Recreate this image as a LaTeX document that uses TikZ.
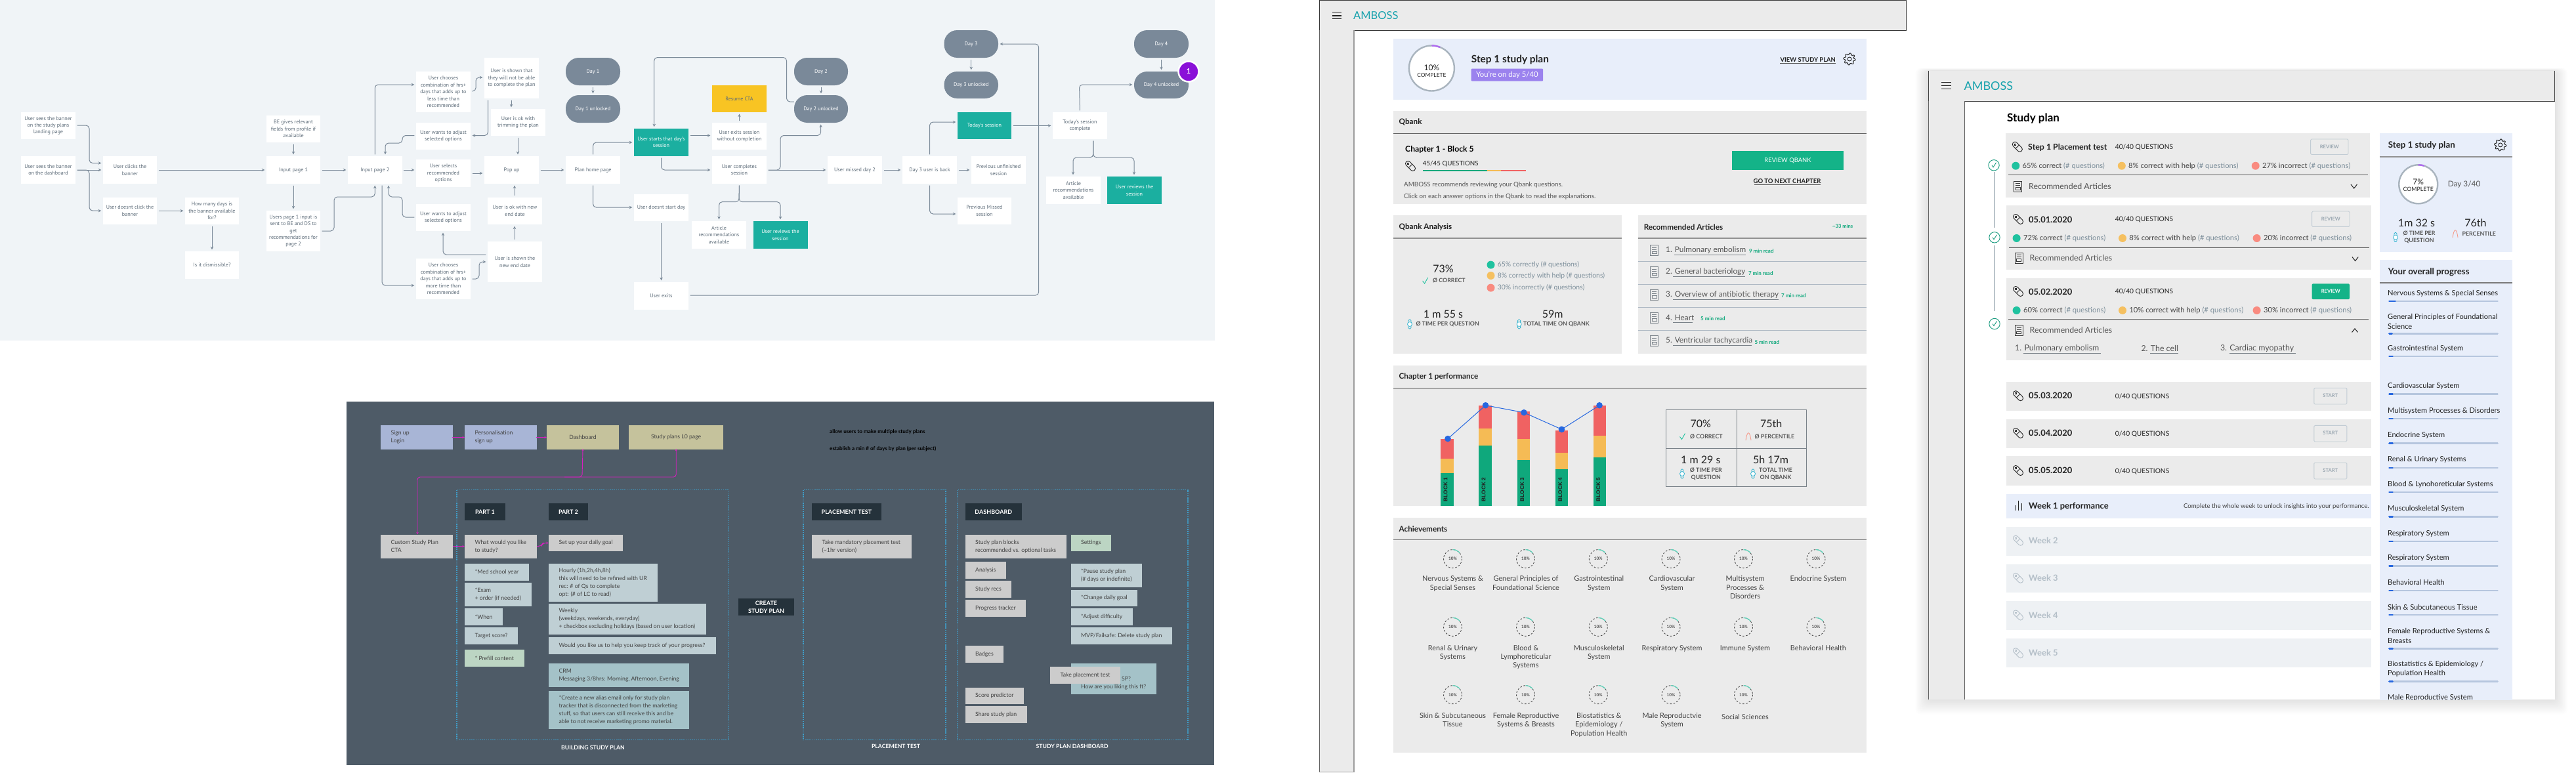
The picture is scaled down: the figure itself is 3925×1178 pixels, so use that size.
\documentclass[tikz,border=0pt]{standalone}
\usepackage{fontspec}
\setmainfont{Lato}
\newfontfamily\flowfont{PT Sans}
\newfontfamily\arialf{Liberation Sans}
\usetikzlibrary{arrows.meta,calc}
\definecolor{flowbg}{HTML}{F0F4F7}
\definecolor{flowln}{HTML}{7B8A99}
\definecolor{flowtx}{HTML}{5C6B78}
\definecolor{teal1}{HTML}{1BAFA0}
\definecolor{yel1}{HTML}{F8C423}
\definecolor{dayc}{HTML}{7A8999}
\definecolor{purp}{HTML}{8A10D8}
\definecolor{dark1}{HTML}{4E5B67}
\definecolor{navy}{HTML}{25323B}
\definecolor{mag}{HTML}{D81FC0}
\definecolor{frameb}{HTML}{3E9FCB}
\definecolor{lav}{HTML}{A8B5D6}
\definecolor{khaki}{HTML}{C5C29C}
\definecolor{gr1}{HTML}{CCCCCC}
\definecolor{bl1}{HTML}{BFCFD4}
\definecolor{bl2}{HTML}{A4C2C8}
\definecolor{gn1}{HTML}{BCD5C3}
\definecolor{pan}{HTML}{EBEBEB}
\definecolor{ice}{HTML}{E8EEFA}
\definecolor{pale}{HTML}{EEF1F4}
\definecolor{logo}{HTML}{17A2AD}
\definecolor{ring}{HTML}{A9B4BE}
\definecolor{pur2}{HTML}{B06CF0}
\definecolor{pur3}{HTML}{9B82EE}
\definecolor{btn}{HTML}{14B388}
\definecolor{dotg}{HTML}{1FC29F}
\definecolor{doty}{HTML}{F5C060}
\definecolor{dotr}{HTML}{F98B80}
\definecolor{slate}{HTML}{7D8F9B}
\definecolor{hair}{HTML}{AEB9C4}
\definecolor{barr}{HTML}{F06262}
\definecolor{bary}{HTML}{F5BB55}
\definecolor{barg}{HTML}{0FA87C}
\definecolor{blu}{HTML}{2667E0}
\definecolor{watch}{HTML}{35B5D0}
\definecolor{ink}{HTML}{222222}
\definecolor{greytx}{HTML}{555555}
\definecolor{faint}{HTML}{B4BFC8}
\definecolor{btnb}{HTML}{C2CCD4}
\definecolor{btnt}{HTML}{9AA7B1}
\definecolor{track}{HTML}{B6C6DE}
\definecolor{salm}{HTML}{F59A8A}
\newcounter{lbn}
\tikzset{
  x=1pt,y=-1pt,
  fs/.style 2 args={font=\fontsize{#1}{#2}\selectfont},
  bfs/.style 2 args={font=\bfseries\fontsize{#1}{#2}\selectfont},
  tx/.style={inner sep=0,anchor=west,text=ink,fs={10}{12.5}},
  flowbase/.style={inner sep=0,align=center,text=flowtx,font=\flowfont\fontsize{8.1}{10.4}\selectfont},
  wbox/.style={flowbase,fill=white},
  tbox/.style={flowbase,fill=teal1,text=white},
  ybox/.style={flowbase,fill=yel1,text=flowtx},
  dbox/.style={flowbase,fill=dayc,text=white,rounded corners=20},
  flow/.style={draw=flowln,line width=1,rounded corners=5,shorten >=2.5,shorten <=2.5,-{Stealth[length=4.5,width=4.5]}},
  mg/.style={draw=mag,line width=.9,rounded corners=4,-{Stealth[length=3.5,width=3.5]}},
  pb/.style={inner sep=0},
  dotf/.style={draw=frameb,line width=1.3,dash pattern=on 1.6 off 1.6},
  dk/.style={inner sep=0,fill=navy,text=white,align=center,font=\bfseries\fontsize{9}{12}\selectfont},
  sec/.style={bfs={11.7}{14}},
  captxt/.style={inner sep=0,text=white,font=\bfseries\fontsize{8.7}{11}\selectfont},
  smb/.style={bfs={8.8}{11},text=greytx},
}
\newcommand\fb[7][wbox]{\node[#1,minimum width={#5-#3},minimum height={#6-#4}] (#2) at ({(#3+#5)/2},{(#4+#6)/2}) {#7};}
\newcommand\pbx[7]{\node[pb,fill=#1,minimum width={#5-#3},minimum height={#6-#4}] (#2) at ({(#3+#5)/2},{(#4+#6)/2}) {};\node[inner sep=0,anchor=west,align=left,text=ink!85,font=\fontsize{8.7}{12}\selectfont] (#2-t) at ([xshift=15.6]#2.west) {#7};}
\newcommand\lb[4][]{\stepcounter{lbn}\node[tx,#1] (lb\arabic{lbn}) at (#2,#3) {#4};}
\newcommand\pillic[3]{\begin{scope}[shift={(#1,#2)},rotate=45]\draw[#3,line width=.9,rounded corners=3.6] (-3.8,-9) rectangle (3.8,9);\draw[#3,line width=.9] (-3.8,0) -- (3.8,0);\draw[#3,line width=.7] (0,-5) circle[radius=1.2];\end{scope}}
\newcommand\watchic[2]{\begin{scope}[shift={(#1,#2)}]\draw[watch,line width=.8,rounded corners=1.5] (-2,-7) rectangle (2,7);\fill[white] (0,0) circle[radius=3.5];\draw[watch,line width=.8] (0,0) circle[radius=3.5];\end{scope}}
\newcommand\chk[2]{\draw[dotg,line width=.9] (#1-4,#2) -- (#1-1,#2+4) -- (#1+4,#2-5);}
\newcommand\pctl[2]{\draw[salm,line width=.9] (#1-4,#2+6) .. controls (#1-2,#2-9) and (#1+2,#2-9) .. (#1+4,#2+6);}
\newcommand\artic[3]{\begin{scope}[shift={(#1,#2)}]\draw[#3,line width=1] (-6,-8) rectangle (6,8);\foreach \q in {-4.5,-1.5}{\draw[#3,line width=.8] (-3.5,\q) -- (3.5,\q);}\draw[#3,line width=.8] (-3.5,1.5) rectangle (3.5,5);\end{scope}}
\newcommand\gearic[2]{\begin{scope}[shift={(#1,#2)}]\draw[ink,line width=.9,rounded corners=.8] plot[samples at={0,7.5,...,352.5},variable=\a] ({((mod(\a,45)<22)?9:6.8)*cos(\a)},{((mod(\a,45)<22)?9:6.8)*sin(\a)}) -- cycle;\draw[ink,line width=.9] (0,0) circle[radius=3];\end{scope}}
\def\sfs{10.4}
\newcommand\sdot[5]{\fill[#3] (#1,#2) circle[radius=6];\lb[fs={\sfs}{12}]{#1+10.2}{#2}{\textcolor{ink!85}{#4} \textcolor{slate}{#5}}}
\newcommand\ach[3]{\lb[anchor=north,align=center,fs={10.9}{13.2},text=ink!85]{#1}{#2-5.3}{#3}}
\newcommand\ring[2]{\draw[ink!80,line width=.9,dash pattern=on 2.6 off 2.6] (#1,#2) circle[radius=14];\draw[dotg!70,line width=1.3] (#1,#2-14) arc[start angle=-90,end angle=-40,radius=14];\lb[anchor=center,bfs={6.4}{8},text=ink!80]{#1}{#2}{10\%}}
\newcommand\rowbtn[6]{\draw[#5,line width=.9,fill=#6,rounded corners=1.5] (#1,#2) rectangle (#3,#4);}
\newcommand\art[6]{\artic{2520.7}{#1}{hair!70!black}\lb[fs={11.8}{14},text=greytx]{2538}{#1}{#2}\lb[bfs={8}{10},text=barg]{#5}{#1+1.5}{#3}\draw[hair!70!black,line width=.7] (#4,#1+7) -- (#6,#1+7);}
\newcommand\prog[4]{\lb[fs={11.1}{13.6},text=ink]{3638}{#1}{#2}\draw[track,line width=2.6,line cap=round] (3640.5,#3) -- (3805.5,#3);\draw[blu,line width=2.6,line cap=round] (3640.5,#3) -- (3640.5+#4,#3);}
\begin{document}
\begin{tikzpicture}
\useasboundingbox (0,0) rectangle (3925,1178);
\fill[white] (0,0) rectangle (3925,1178);
%% ------- flowchart -------
\fill[flowbg] (0,0) rectangle (1851,519);
\fb{a1}{32}{171}{115}{212}{User sees the banner\\on the study plans\\landing page}
\fb{a2}{32}{238}{115}{280}{User sees the banner\\on the dashboard}
\fb{b1}{157}{238}{239}{280}{User clicks the\\banner}
\fb{b2}{157}{300.5}{239}{342}{User doesnt click the\\banner}
\fb{c}{282}{300.5}{364}{342}{How many days is\\the banner available\\for?}
\fb{d}{282}{383}{364}{425}{Is it dismissible?}
\fb{e}{406}{176}{488}{217}{BE gives relevant\\fields from profile if\\available}
\fb{f}{406}{238}{488}{280}{Input page 1}
\fb{g}{406}{321}{488}{383}{Users page 1 input is\\sent to BE and DS to\\get\\recommendations for\\page 2}
\fb{h}{530}{238}{612.5}{280}{Input page 2}
\fb{i}{634}{109}{717}{171}{User chooses\\combination of hrs+\\days that adds up to\\less time than\\recommended}
\fb{j}{738}{88}{821}{150}{User is shown that\\they will not be able\\to complete the plan}
\fb{k}{748}{166}{831}{207}{User is ok with\\trimming the plan}
\fb{l}{634}{187}{717}{228}{User wants to adjust\\selected options}
\fb{m}{634}{243}{717}{285}{User selects\\recommended\\options}
\fb{n}{738}{238}{821}{280}{Pop up}
\fb{o}{743}{300.5}{826}{342}{User is ok with new\\end date}
\fb{p}{634}{311}{717}{352}{User wants to adjust\\selected options}
\fb{q}{743}{368}{826}{430}{User is shown the\\new end date}
\fb{r}{634}{394}{717}{456}{User chooses\\combination of hrs+\\days that adds up to\\more time than\\recommended}
\fb[dbox]{day1}{862}{88}{945}{130}{Day 1}
\fb[dbox]{day1u}{862}{145}{945}{187}{Day 1 unlocked}
\fb{s}{862}{238}{945}{280}{Plan home page}
\fb[tbox]{t}{966}{196}{1049}{238}{User starts that day's\\session}
\fb{u}{1085}{187}{1168}{228}{User exits session\\without completion}
\fb[ybox]{v}{1085}{130}{1168}{171}{Resume CTA}
\fb{w}{1085}{238}{1168}{280}{User completes\\session}
\fb[dbox]{day2}{1210}{88}{1292}{130}{Day 2}
\fb[dbox]{day2u}{1210}{145}{1292}{187}{Day 2 unlocked}
\fb{x}{966}{295.5}{1049}{337}{User doesnt start day}
\fb{y}{1054}{337}{1137}{379}{Article\\recommendations\\available}
\fb[tbox]{z}{1147.5}{337}{1230.5}{379}{User reviews the\\session}
\fb{aa}{966}{430}{1049}{472}{User exits}
\fb{ab}{1261}{238}{1344}{280}{User missed day 2}
\fb{ac}{1375}{238}{1458}{280}{Day 3 user is back}
\fb{ad}{1480}{238}{1563}{280}{Previous unfinished\\session}
\fb{ae}{1459}{300.5}{1541}{342}{Previous Missed\\session}
\fb[tbox]{af}{1459}{171}{1541}{212}{Today's session}
\fb{ag}{1604}{171}{1687}{212}{Today's session\\complete}
\fb{ah}{1594}{269}{1677}{311}{Article\\recommendations\\available}
\fb[tbox]{ai}{1687}{269}{1770}{311}{User reviews the\\session}
\fb[dbox]{day3}{1438.5}{46}{1521}{88}{Day 3}
\fb[dbox]{day3u}{1438.5}{109}{1521}{150}{Day 3 unlocked}
\fb[dbox]{day4}{1728}{46}{1811}{88}{Day 4}
\fb[dbox]{day4u}{1728}{109}{1811}{150}{Day 4 unlocked}
\node[circle,fill=purp,draw=white,line width=2.5,minimum size=31,inner sep=0,text=white,font=\bfseries\fontsize{11}{12}\selectfont] (badge) at (1811,109) {1};
% connectors
\draw[flow] (a1.east |- 0,191) -- (136,191) -- (136,248.5) -- (b1.west |- 0,248.5);
\draw[flow] (a2.east) -- (b1.west);
\draw[flow] (a2.east) -- (136,259) -- (136,321) -- (b2.west);
\draw[flow] (b1.east) -- (f.west);
\draw[flow] (b2.east) -- (c.west);
\draw[flow] (c.south) -- (d.north);
\draw[flow] (e.south) -- (f.north);
\draw[flow] (f.south) -- (g.north);
\draw[flow] (f.east) -- (h.west);
\draw[flow] (g.east |- 0,352) -- (509,352) -- (509,300) -- (571.3,300) -- (h.south);
\draw[flow] (h.north) -- (571.3,129) -- (i.west |- 0,129);
\draw[flow] (582,0 |- h.south) -- (582,435) -- (r.west |- 0,435);
\draw[flow] (h.east) -- (m.west |- h.east);
\draw[flow] (m.east) -- (n.west |- m.east);
\draw[flow] (n.east) -- (s.west);
\draw[flow] (i.east |- 0,139) -- (725,139) -- (725,118) -- (j.west |- 0,118);
\draw[flow] (779,0 |- j.south) -- (779,0 |- k.north);
\draw[flow] (743.5,0 |- j.south) -- (743.5,206.5) -- (l.east |- 0,206.5);
\draw[flow] (789,0 |- k.south) -- (789,0 |- n.north);
\draw[flow] (l.west |- 0,206.5) -- (613,206.5) -- (613,218) -- (587,218) -- (587,0 |- h.north);
\draw[flow] (p.west |- 0,331) -- (613,331) -- (613,300) -- (592,300) -- (592,0 |- h.south);
\draw[flow] (r.east |- 0,425) -- (730,425) -- (730,399) -- (q.west |- 0,399);
\draw[flow] (q.west |- 0,388) -- (675,388) -- (p.south -| 675,0);
\draw[flow] (784,0 |- q.north) -- (784,0 |- o.south);
\draw[flow] (784,0 |- o.north) -- (784,0 |- n.south);
\draw[flow] (day1.south) -- (day1u.north);
\draw[flow] (903.6,0 |- s.north) -- (903.6,217) -- (t.west |- 0,217);
\draw[flow] (903.6,0 |- s.south) -- (903.6,316) -- (x.west |- 0,316);
\draw[flow] (t.east |- 0,206.5) -- (u.west |- 0,206.5);
\draw[flow] (u.north) -- (v.south);
\draw[flow] (1007.6,0 |- t.south) -- (1007.6,259) -- (w.west);
\draw[flow] (w.east) -- (ab.west);
\draw[flow] (w.east) -- (1189,259) -- (1189,206.5) -- (1250.6,206.5) -- (1250.6,0 |- day2u.south);
\draw[flow,shorten <=0] (day2u.west |- 0,155) -- (1198.5,155) -- (1198.5,87.5) -- (996.7,87.5) -- (996.7,0 |- t.north);
\draw[flow] (day2.south) -- (day2u.north);
\draw[flow] (w.south) -- (1126,307.6) -- (1095.5,307.6) -- (1095.5,0 |- y.north);
\draw[flow] (w.south) -- (1126,307.6) -- (1189,307.6) -- (1189,0 |- z.north);
\draw[flow] (x.south -| 1007.6,0) -- (aa.north -| 1007.6,0);
\draw[flow] (aa.east |- 0,450) -- (1582.7,450) -- (1582.7,67) -- (day3.east);
\draw[flow] (ab.east) -- (ac.west);
\draw[flow] (ac.east) -- (ad.west);
\draw[flow] (ac.north) -- (1416.5,186) -- (af.west |- 0,186);
\draw[flow] (ac.south) -- (1416.5,326) -- (ae.west |- 0,326);
\draw[flow] (af.east) -- (ag.west);
\draw[flow] (ag.north) -- (1644.5,129) -- (day4u.west |- 0,129);
\draw[flow] (1665.8,0 |- ag.south) -- (1665.8,240) -- (1635,240) -- (1635,0 |- ah.north);
\draw[flow] (1665.8,0 |- ag.south) -- (1665.8,240) -- (1728,240) -- (1728,0 |- ai.north);
\draw[flow] (day3.south) -- (day3u.north);
\draw[flow] (day4.south) -- (day4u.north);
%% ------- dark board -------
\fill[dark1] (528,612) rectangle (1850,1166);
\pbx{lav}{su}{580}{648}{690}{685}{Sign up\\Login}
\pbx{lav}{pe}{708}{648}{818}{685}{Personalisation\\sign up}
\node[pb,fill=khaki,minimum width=110,minimum height=37,font=\fontsize{8.7}{12}\selectfont,text=ink!85] (da) at (888,666.5) {Dashboard};
\node[pb,fill=khaki,minimum width=144.5,minimum height=37,font=\fontsize{8.7}{12}\selectfont,text=ink!85] (sp) at (1030.2,666.5) {Study plans L0 page};
\pbx{gr1}{cta}{580}{814.5}{690}{850.6}{Custom Study Plan\\CTA}
\draw[dotf] (696,746.7) rectangle (1110.6,1127.8);
\draw[dotf] (1224,746.7) rectangle (1441,1127.8);
\draw[dotf] (1458.5,746.7) rectangle (1810,1127.8);
\fb[dk]{pt1}{708}{767}{770}{793}{PART 1}
\fb[dk]{pt2}{836}{767}{896}{793}{PART 2}
\fb[dk]{pt3}{1237}{767}{1343}{793}{PLACEMENT TEST}
\fb[dk]{pt4}{1470.6}{767}{1557}{793}{DASHBOARD}
\fb[dk]{cs}{1125}{912}{1210}{938}{CREATE\\STUDY PLAN}
\pbx{gr1}{wh}{708}{814.5}{818}{850.6}{What would you like\\to study?}
\pbx{gr1}{set}{836}{814.5}{949}{840.3}{Set up your daily goal}
\pbx{bl1}{med}{708}{859}{806}{885}{*Med school year}
\pbx{bl1}{ex}{708}{888}{810}{924}{*Exam\\+ order (if needed)}
\pbx{bl1}{wn}{708}{927}{766}{953}{*When}
\pbx{bl1}{ts}{708}{956}{789}{982}{Target score?}
\pbx{gn1}{pf}{708}{990}{798.6}{1016}{* Prefill content}
\pbx{bl1}{hr}{836}{859}{1002}{916.6}{Hourly (1h,2h,4h,8h)\\this will need to be refined with UR\\rec: \# of Qs to complete\\opt: (\# of LC to read)}
\pbx{bl1}{wk}{836}{919.6}{1076}{966.7}{Weekly\\(weekdays, weekends, everyday)\\+ checkbox excluding holidays (based on user location)}
\pbx{bl1}{tr}{836}{970.8}{1090.5}{996.6}{Would you like us to help you keep track of your progress?}
\pbx{bl2}{crm}{836}{1010.6}{1050}{1047}{CRM\\Messaging 3/8hrs: Morning, Afternoon, Evening}
\pbx{bl2}{al}{836}{1053}{1050}{1110.5}{*Create a new alias email only for study plan\\tracker that is disconnected from the marketing\\stuff, so that users can still receive this and be\\able to not receive marketing promo material.}
\pbx{gr1}{mt}{1237}{814.5}{1388.6}{850.6}{Take mandatory placement test\\(\textasciitilde1hr version)}
\pbx{gr1}{bk}{1470.6}{814.5}{1624.5}{850.6}{Study plan blocks\\recommended vs. optional tasks}
\pbx{gn1}{st}{1631.5}{814.5}{1693}{840.3}{Settings}
\pbx{gr1}{an}{1470.6}{856}{1532.6}{882}{Analysis}
\pbx{gr1}{rc}{1470.6}{885}{1541}{911}{Study recs}
\pbx{gr1}{tk}{1470.6}{914.4}{1563.4}{940}{Progress tracker}
\pbx{gr1}{bd}{1470.6}{984.4}{1529}{1010}{Badges}
\pbx{gr1}{sc}{1470.6}{1047.5}{1560}{1073.3}{Score predictor}
\pbx{gr1}{sh}{1470.6}{1076}{1565}{1102}{Share study plan}
\pbx{bl1}{pa}{1631.5}{859}{1740}{895}{*Pause study plan\\(\# days or indefinite)}
\pbx{bl1}{cg}{1631.5}{898.6}{1733.4}{924.4}{*Change daily goal}
\pbx{bl1}{ad2}{1631.5}{927}{1726}{953}{*Adjust difficulty}
\pbx{bl1}{mv}{1631.5}{956}{1785.9}{982}{MVP/Failsafe: Delete study plan}
\pbx{bl2}{ft}{1631.5}{1010.6}{1762}{1057.8}{\strut\\\hspace*{62pt}SP?\\How are you liking this ft?}
\pbx{gr1}{tp}{1600}{1016}{1707}{1041.6}{Take placement test}
\draw[mg,shorten <=-1] (su.east) -- (pe.west);
\draw[mg,shorten <=-1] (pe.east) -- (da.west);
\draw[mg,{Stealth[length=3,width=3]}-{Stealth[length=3.5,width=3.5]},shorten <=-1] (da.south) -- (887,727) -- (860,727) -- (636,727) -- (636,0 |- cta.north);
\draw[mg,{Stealth[length=3,width=3]}-,shorten <=-1] (sp.south) -- (1030.2,727) -- (860,727);
\draw[mg] (cta.east) -- (wh.west);
\draw[mg] (wh.east) -- (825,832) -- (827,827.6) -- (set.west);
\node[captxt] (c1) at (903.5,1139.6) {BUILDING STUDY PLAN};
\node[captxt] (c2) at (1365,1137.8) {PLACEMENT TEST};
\node[captxt] (c3) at (1633.6,1137.8) {STUDY PLAN DASHBOARD};
\lb[bfs={8.1}{11},text=black]{1264}{658}{allow users to make multiple study plans}
\lb[bfs={8.1}{11},text=black]{1264}{684.4}{establish a min \# of days by plan (per subject)}
%% ------- screen 1 -------
\fill[pan] (2010,0) rectangle (2904,46.4);
\draw[ink!90,line width=1] (2010,0.5) -- (2904,0.5) -- (2904,46.4) -- (2010,46.4) -- cycle;
\fill[pan] (2010,46.4) rectangle (2063,1176.7);
\draw[ink!70,line width=.8] (2010,46.4) -- (2010,1176.7);
\draw[ink!45,line width=1.2] (2063,46.4) -- (2063,1176.7) (2010,1176.7) -- (2063,1176.7);
\foreach \q in {18.6,24,28.6}{\draw[ink,line width=1.1] (2030,\q) -- (2043.6,\q);}
\lb[fs={16.5}{20},text=logo]{2062}{24}{AMBOSS}
\fill[ice] (2123,59) rectangle (2844,152);
\draw[ring,line width=2.4,fill=white] (2181.4,104) circle[radius=34.5];
\draw[pur2,line width=2.4] (2181.4,69.5) arc[start angle=-90,end angle=-68,radius=34.5];
\lb[anchor=center,fs={12}{14}]{2181.4}{103}{10\%}
\lb[anchor=center,fs={8.4}{10}]{2181.4}{114}{COMPLETE}
\lb[bfs={15.4}{19}]{2241.7}{90.7}{Step 1 study plan}
\fill[pur3,rounded corners=1] (2241.7,104.6) rectangle (2351,123.6);
\lb[anchor=center,fs={11.3}{13},text=white]{2296.3}{114.4}{You're on day 5/40}
\lb[bfs={9.4}{11},text=ink]{2712.4}{90.7}{VIEW STUDY PLAN}
\draw[ink!80,line width=.7] (2712.4,96.8) -- (2797.3,96.8);
\gearic{2818}{90}
\fill[pan] (2123,168.6) rectangle (2844,310.7);
\draw[ink!70,line width=.9] (2123,203.6) -- (2844,203.6);
\lb[sec]{2131.5}{186.4}{Qbank}
\lb[bfs={12.2}{15},text=black]{2141}{228}{Chapter 1 - Block 5}
\pillic{2149}{253}{ink}
\lb[fs={9.8}{11}]{2167.6}{249.6}{45/45 QUESTIONS}
\fill[barg] (2167.6,258.7) rectangle (2265.8,261.4);
\fill[bary] (2265.8,258.7) rectangle (2287,261.4);
\fill[barr] (2287,258.7) rectangle (2325,261.4);
\lb[fs={9.8}{11},text=greytx]{2139}{281.8}{AMBOSS recommends reviewing your Qbank questions.}
\lb[fs={9.8}{11},text=greytx]{2139}{299.3}{Click on each answer options in the Qbank to read the explanations.}
\fill[btn] (2639,230) rectangle (2809,259);
\lb[anchor=center,fs={9.4}{11},text=white]{2724}{245}{REVIEW QBANK}
\lb[anchor=center,bfs={9.5}{11},text=ink]{2723}{275.7}{GO TO NEXT CHAPTER}
\draw[ink!80,line width=.7] (2672.8,281.4) -- (2773.8,281.4);
\fill[pan] (2123,328) rectangle (2471,538.6);
\fill[pan] (2496,328) rectangle (2844,538.6);
\draw[ink!50,line width=1.2] (2123,363) -- (2471,363) (2496,363) -- (2844,363);
\lb[sec]{2131.5}{346}{Qbank Analysis}
\lb[sec]{2504.6}{346}{Recommended Articles}
\lb[bfs={7.6}{10},text=barg]{2792}{345}{\textasciitilde33 mins}
\foreach \q in {398,433,468,503}{\draw[hair,line width=.9] (2496,\q) -- (2844,\q);}
\art{381.4}{1. Pulmonary embolism}{9 min read}{2550.5}{2664.8}{2660}
\art{414.6}{2. General bacteriology}{7 min read}{2549}{2663.8}{2658.5}
\art{449.3}{3. Overview of antibiotic therapy}{7 min read}{2549}{2714}{2710}
\art{484.3}{4. Heart}{5 min read}{2549}{2591}{2579}
\art{519.6}{5. Ventricular tachycardia}{5 min read}{2549}{2673.4}{2669.4}
\lb[anchor=center,fs={16}{19}]{2199}{410}{73\%}
\chk{2171.6}{428}
\lb[smb]{2183}{427}{Ø CORRECT}
\sdot{2271.5}{403.6}{dotg}{\textcolor{slate}{65\% correctly}}{(\# questions)}
\sdot{2271.5}{420}{doty}{\textcolor{slate}{8\% correctly with help}}{(\# questions)}
\sdot{2271.5}{438.6}{dotr}{\textcolor{slate}{30\% incorrectly}}{(\# questions)}
\lb[anchor=center,fs={16}{19}]{2199}{478.6}{1 m 55 s}
\watchic{2148}{494}
\lb[smb]{2157.3}{494}{Ø TIME PER QUESTION}
\lb[anchor=center,fs={16}{19}]{2365.7}{478.6}{59m}
\watchic{2314.6}{494}
\lb[smb]{2321}{494}{TOTAL TIME ON QBANK}
\fill[pan] (2123,557) rectangle (2844,770.7);
\draw[ink!80,line width=.9] (2123,591.3) -- (2844,591.3);
\lb[sec]{2131.5}{574.6}{Chapter 1 performance}
\foreach \a/\b/\c/\d/\e/\n in {2195/669/699/721.4/2215/1,2253/618/652.7/679/2273/2,2311.7/627/669.4/701/2331/3,2369.7/656/690/715/2389/4,2427.7/618/663.7/696.6/2447/5}{
  \fill[barr] (\a,\b) rectangle (\e,\c);
  \fill[bary] (\a,\c) rectangle (\e,\d);
  \fill[barg] (\a,\d) rectangle (\e,770.7);
  \lb[rotate=90,anchor=west,font=\arialf\bfseries\fontsize{8.3}{10}\selectfont,text=ink]{\a+7.5}{764.6}{BLOCK \n}
}
\draw[blu,line width=1] (2206,668.6) -- (2263.5,617.7) -- (2322,628.7) -- (2379.5,654.3) -- (2437,617.7);
\foreach \a/\b in {2206/668.6,2263.5/617.7,2322/628.7,2379.5/654.3,2437/617.7}{\fill[blu] (\a,\b) circle[radius=4.8];}
\draw[hair!70!black,line width=1] (2538.5,624) rectangle (2752.6,741.4) (2646.4,624) -- (2646.4,741.4) (2538.5,683.2) -- (2752.6,683.2);
\lb[anchor=center,fs={16}{19}]{2591.3}{645.4}{70\%}
\chk{2563.5}{665.5}
\lb[smb]{2575}{665}{Ø CORRECT}
\lb[anchor=center,fs={16}{19}]{2698.6}{645.4}{75th}
\pctl{2664}{665}
\lb[smb]{2673.5}{665}{Ø PERCENTILE}
\lb[anchor=center,fs={16}{19}]{2591.3}{700.7}{1 m 29 s}
\watchic{2563}{722}
\lb[anchor=center,align=center,smb]{2599.3}{722}{Ø TIME PER\\QUESTION}
\lb[anchor=center,fs={16}{19}]{2698}{700.7}{5h 17m}
\watchic{2671}{722}
\lb[anchor=center,align=center,smb]{2705.5}{722}{TOTAL TIME\\ON QBANK}
\fill[pan] (2123,788.6) rectangle (2844,1147.4);
\draw[ink!60,line width=.9] (2123,822.7) -- (2844,822.7);
\lb[sec]{2131.5}{806}{Achievements}
\foreach \gy in {851.6,955.4,1058.7}{\foreach \gx in {2213.5,2324.5,2435.3,2546,2656.5,2767}{\ifdim\gy pt>1000pt\ifdim\gx pt>2700pt\else\ring{\gx}{\gy}\fi\else\ring{\gx}{\gy}\fi}}
\ach{2213.5}{883}{Nervous Systems \&\\Special Senses}
\ach{2325}{883}{General Principles of\\Foundational Science}
\ach{2436.3}{883}{Gastrointestinal\\System}
\ach{2547.6}{883}{Cardiovascular\\System}
\ach{2659}{883}{Multisystem\\Processes \&\\Disorders}
\ach{2770.4}{883}{Endocrine System}
\ach{2213.5}{988.3}{Renal \& Urinary\\Systems}
\ach{2325}{988.3}{Blood \&\\Lymphoreticular\\Systems}
\ach{2436.3}{988.3}{Musculoskeletal\\System}
\ach{2547.6}{988.3}{Respiratory System}
\ach{2659}{988.3}{Immune System}
\ach{2770.4}{988.3}{Behavioral Health}
\ach{2213.5}{1091.7}{Skin \& Subcutaneous\\Tissue}
\ach{2325}{1091.7}{Female Reproductive\\Systems \& Breasts}
\ach{2436.3}{1091.7}{Biostatistics \&\\Epidemiology /\\Population Health}
\ach{2547.6}{1091.7}{Male Reproductvie\\System}
\ach{2659}{1093.7}{Social Sciences}
%% ------- screen 2 -------
\def\sfs{11.2}
\foreach \q in {1,...,14}{\fill[black,opacity=.007,rounded corners=8] (2938-\q*1.4,108-\q*.3) rectangle (3892.5+\q*1.4,1066+\q*1.6);}
\fill[white] (2938,107.7) rectangle (3892.5,1066);
\fill[pan] (2938,107.7) rectangle (3892.5,154);
\draw[ink!85,line width=.9] (2938,107.7) -- (2938,154) (3892.5,107.7) -- (3892.5,154) -- (2938,154);
\fill[pan] (2938,154) rectangle (2993.7,1066);
\draw[ink!70,line width=.7] (2938,154) -- (2938,1066) (2993.7,154) -- (2993.7,1066);
\foreach \q in {125.5,130.6,135.4}{\draw[ink,line width=1.1] (2958,\q) -- (2972.6,\q);}
\lb[fs={18}{20},text=logo]{2992.4}{131}{AMBOSS}
\lb[bfs={17}{20},text=black]{3058}{181}{Study plan}
% timeline
\draw[slate,line width=.8] (3038.6,262) -- (3038.6,346.5) (3038.6,373.6) -- (3038.6,473.7);
\foreach \a/\b in {3038/251.8,3039/361.8,3039/493.5}{
  \draw[dotg!80!black,line width=.9] (\a,\b) circle[radius=8.2];
  \draw[dotg!80!black,line width=.9] (\a-3,\b) -- (\a-1,\b+3) -- (\a+3.5,\b-4);
}
% rows
\fill[pan] (3056,203.3) rectangle (3611,301.2);
\fill[pan] (3057,313.3) rectangle (3613,411);
\fill[pan] (3057,423.7) rectangle (3613,549);
\fill[pan] (3057,582) rectangle (3613,626.4);
\fill[pan] (3057,638.7) rectangle (3613,683);
\fill[pan] (3057,695.4) rectangle (3613,740);
\fill[ice] (3057,752.8) rectangle (3613,790);
\fill[pale] (3057,803) rectangle (3613,846.6);
\fill[pale] (3057,859.6) rectangle (3613,903.3);
\fill[pale] (3057,916.3) rectangle (3613,960.4);
\fill[pale] (3057,973.3) rectangle (3613,1017.4);
% row 1
\pillic{3073.8}{223.7}{ink}
\lb[bfs={12.4}{15}]{3090}{224.7}{Step 1 Placement test}
\lb[fs={10.2}{11}]{3222.6}{224.7}{40/40 QUESTIONS}
\rowbtn{3520.6}{212}{3578}{235.5}{btnb}{pan}
\lb[anchor=center,bfs={7.6}{9},text=btnt]{3549.3}{224}{REVIEW}
\sdot{3071.3}{252.7}{dotg}{65\% correct}{(\# questions)}
\sdot{3232.8}{252.7}{doty}{8\% correct with help}{(\# questions)}
\sdot{3436.7}{252.7}{dotr}{27\% incorrect}{(\# questions)}
\draw[ink!75,line width=1] (3059.7,266.8) -- (3607.8,266.8);
\artic{3074.5}{284.3}{ink!90}
\lb[fs={12.4}{14},text=greytx]{3091}{284.3}{Recommended Articles}
\draw[ink,line width=1] (3582,281) -- (3586.7,287) -- (3591.4,281);
% row 2
\pillic{3075}{334}{ink}
\lb[bfs={12.9}{15}]{3091}{334.4}{05.01.2020}
\lb[fs={10.2}{11}]{3222.6}{334.7}{40/40 QUESTIONS}
\rowbtn{3522.6}{322}{3580}{345.5}{btnb}{pan}
\lb[anchor=center,bfs={7.6}{9},text=btnt]{3551.3}{334}{REVIEW}
\sdot{3072.6}{363}{dotg}{72\% correct}{(\# questions)}
\sdot{3234}{363}{doty}{8\% correct with help}{(\# questions)}
\sdot{3438.6}{363}{dotr}{20\% incorrect}{(\# questions)}
\draw[ink!75,line width=1] (3061,377.7) -- (3609.7,377.7);
\artic{3076}{393}{ink!90}
\lb[fs={12.4}{14},text=greytx]{3092.4}{393}{Recommended Articles}
\draw[ink,line width=1] (3584,391.6) -- (3588.6,397.6) -- (3593.2,391.6);
% row 3
\pillic{3075}{444}{ink}
\lb[bfs={12.9}{15}]{3091}{444.4}{05.02.2020}
\lb[fs={10.2}{11}]{3222.6}{444.7}{40/40 QUESTIONS}
\fill[btn,rounded corners=1.5] (3522.6,432.3) rectangle (3580,456.2);
\lb[anchor=center,bfs={7.6}{9},text=white]{3551.3}{444}{REVIEW}
\sdot{3072.6}{473}{dotg}{60\% correct}{(\# questions)}
\sdot{3234}{473}{doty}{10\% correct with help}{(\# questions)}
\sdot{3438.6}{473}{dotr}{30\% incorrect}{(\# questions)}
\draw[ink!75,line width=1] (3060.4,486.5) -- (3608.8,486.5);
\artic{3076}{503.4}{ink!90}
\lb[fs={12.4}{14},text=greytx]{3092.4}{503.4}{Recommended Articles}
\draw[ink,line width=1] (3583.5,506.4) -- (3588,500.8) -- (3592.5,506.4);
\lb[fs={12.4}{14},text=greytx]{3070}{531}{1. Pulmonary embolism}
\draw[hair!70!black,line width=.7] (3082.8,538.5) -- (3200.8,538.5);
\lb[fs={12.4}{14},text=greytx]{3262.3}{531}{2. The cell}
\draw[hair!70!black,line width=.7] (3275.8,538.5) -- (3319.4,538.5);
\lb[fs={12.4}{14},text=greytx]{3382.8}{531}{3. Cardiac myopathy}
\draw[hair!70!black,line width=.7] (3397,538.5) -- (3497.6,538.5);
% rows 4-6
\foreach \d/\yy/\ya/\yb in {05.03.2020/603.2/591.2/616,05.04.2020/660/648.3/673,05.05.2020/717/705/730}{
  \pillic{3075}{\yy}{ink}
  \lb[bfs={12.9}{15}]{3091}{\yy}{\d}
  \lb[fs={10.2}{11}]{3222.6}{\yy+1}{0/40 QUESTIONS}
  \rowbtn{3525.8}{\ya}{3575.8}{\yb}{btnb}{pan}
  \lb[anchor=center,bfs={7.6}{9},text=btnt]{3550.8}{\yy}{START}
}
\draw[ink,line width=.9] (3071.6,778) -- (3071.6,770) (3075.8,778) -- (3075.8,763) (3080,778) -- (3080,767);
\lb[bfs={13}{15}]{3091}{771.7}{Week 1 performance}
\lb[fs={9.5}{11},text=ink!85]{3327}{771.5}{Complete the whole week to unlock insights into your performance.}
\foreach \n/\yy in {2/823.7,3/880.8,4/937.5,5/995.2}{
  \pillic{3075}{\yy}{faint}
  \lb[bfs={13}{15},text=faint]{3091}{\yy}{Week \n}
}
% right column
\fill[ice] (3625.8,203.3) rectangle (3828,383.5);
\lb[bfs={13.3}{17}]{3638.6}{221.8}{Step 1 study plan}
\gearic{3809.7}{220.9}
\draw[ink!50,line width=1.6] (3625.8,238.7) -- (3828,238.7);
\draw[ring,line width=2.4,fill=white] (3684.7,280.8) circle[radius=29.5];
\draw[pur2,line width=2.4] (3684.7,251.3) arc[start angle=-90,end angle=-72,radius=29.5];
\lb[anchor=center,fs={12}{14}]{3684.7}{277}{7\%}
\lb[anchor=center,fs={8.8}{10}]{3684.7}{288.5}{COMPLETE}
\lb[fs={11.8}{14},text=greytx]{3729.6}{281}{Day 3/40}
\lb[anchor=center,fs={16}{19}]{3682}{340}{1m 32 s}
\watchic{3650}{361.5}
\lb[anchor=center,align=center,smb]{3686}{361.3}{Ø TIME PER\\QUESTION}
\lb[anchor=center,fs={16}{19}]{3772}{340}{76th}
\pctl{3741}{356}
\lb[smb]{3751.4}{356}{PERCENTILE}
\begin{scope}
\clip (3600,390) rectangle (3840,1066);
\fill[ice] (3625.8,395.6) rectangle (3828,1070);
\lb[bfs={13.3}{17}]{3638.6}{414.7}{Your overall progress}
\draw[ink!60,line width=1.2] (3625.8,431) -- (3828,431);
\prog{447.6}{Nervous Systems \& Special Senses}{459}{9}
\lb[fs={11.1}{13.6}]{3638}{483.6}{General Principles of Foundational}
\prog{497}{Science}{508.5}{4}
\prog{531.8}{Gastrointestinal System}{543}{5}
\prog{588.6}{Cardiovascular System}{600.5}{5}
\prog{626}{Multisystem Processes \& Disorders}{638}{5}
\prog{663.5}{Endocrine System}{675.5}{5}
\prog{700.7}{Renal \& Urinary Systems}{713}{5}
\prog{738}{Blood \& Lynohoreticular Systems}{750}{5}
\prog{775.6}{Musculoskeletal System}{787.6}{5}
\prog{813}{Respiratory System}{825}{5}
\prog{850}{Respiratory System}{862.5}{5}
\prog{887.7}{Behavioral Health}{900}{5}
\prog{925}{Skin \& Subcutaneous Tissue}{937}{5}
\lb[fs={11.1}{13.6}]{3638}{962.4}{Female Reproductive Systems \&}
\prog{976.6}{Breasts}{988.6}{5}
\lb[fs={11.1}{13.6}]{3638}{1012}{Biostatistics \& Epidemiology /}
\prog{1026.4}{Population Health}{1038.6}{5}
\lb[fs={11.1}{13.6}]{3638}{1063.5}{Male Reproductive System}
\end{scope}
\end{tikzpicture}
\end{document}
